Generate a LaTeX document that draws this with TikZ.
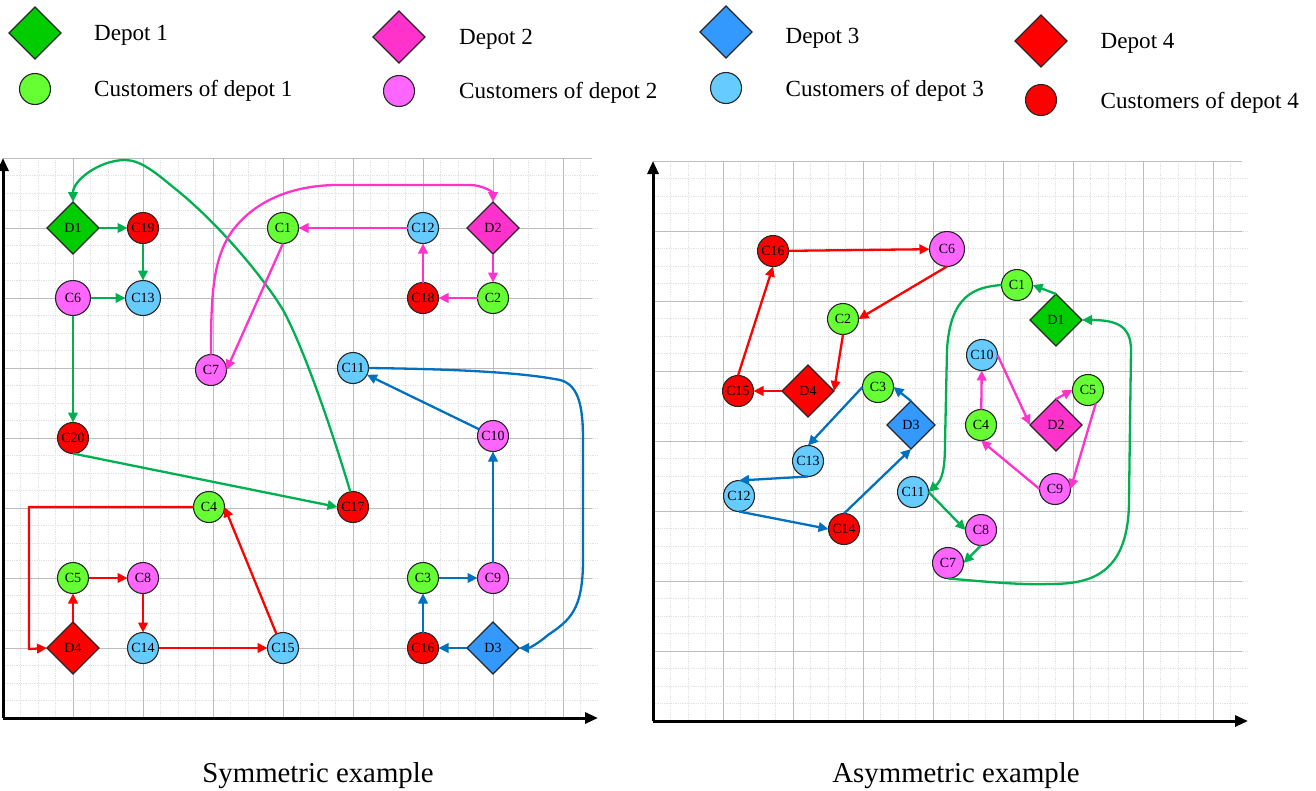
\documentclass[tikz,border=0pt]{standalone}
\usepackage{fontspec}
\setmainfont{Liberation Serif}
\usetikzlibrary{arrows.meta,shapes.geometric}
\definecolor{gA}{HTML}{00CC00}\definecolor{gB}{HTML}{66FF33}\definecolor{gL}{HTML}{00B050}
\definecolor{pA}{HTML}{FF33CC}\definecolor{pB}{HTML}{FF66FF}
\definecolor{bA}{HTML}{3399FF}\definecolor{bB}{HTML}{66CCFF}\definecolor{bL}{HTML}{0070C0}
\definecolor{rA}{HTML}{FF0000}
\definecolor{gridmaj}{HTML}{BDBDBD}\definecolor{gridmin}{HTML}{E2E2E2}
\tikzset{
 x=1pt,y=-1pt,
 base/.style={draw=black!85,line width=1.1pt,inner sep=0pt,outer sep=0pt,font=\fontsize{14}{16}\selectfont},
 depot/.style={base,diamond,aspect=1,minimum width=52pt,minimum height=52pt},
 depotsm/.style={base,diamond,aspect=1,minimum width=48pt,minimum height=48pt},
 cust/.style={base,circle,minimum size=31pt},
 custb/.style={base,circle,minimum size=35pt},
 legend/.style={anchor=west,inner sep=0pt,font=\fontsize{23.1}{26}\selectfont},
 caption/.style={inner sep=0pt,font=\fontsize{28.8}{32}\selectfont},
 con/.style={line width=2.3pt,-{Triangle[length=10pt,width=9.5pt]}},
 gl/.style={con,draw=gL,-{Triangle[length=10pt,width=9.5pt,fill=gL]}},
 pl/.style={con,draw=pA},
 bl/.style={con,draw=bL},
 rl/.style={con,draw=rA},
 axis/.style={line width=3pt,-{Triangle[length=13pt,width=11pt]},black},
 maj/.style={draw=gridmaj,line width=1pt},
 mnr/.style={draw=gridmin,line width=0.8pt,densely dotted},
}
\begin{document}
\begin{tikzpicture}
\useasboundingbox (0,0) rectangle (1316,790);
% legend
\node[depot,fill=gA] (l1) at (35,33) {};
\node[cust,fill=gB] (l2) at (35,89) {};
\node[legend] (t1) at (94,35) {Depot 1};
\node[legend] (t2) at (94,91) {Customers of depot 1};
\node[depot,fill=pA] (l3) at (399,37) {};
\node[cust,fill=pB] (l4) at (399,91) {};
\node[legend] (t3) at (459,39) {Depot 2};
\node[legend] (t4) at (459,93) {Customers of depot 2};
\node[depot,fill=bA] (l5) at (726,32) {};
\node[cust,fill=bB] (l6) at (726,88) {};
\node[legend] (t5) at (785.5,38) {Depot 3};
\node[legend] (t6) at (785.5,91) {Customers of depot 3};
\node[depot,fill=rA] (l7) at (1041,41) {};
\node[cust,fill=rA] (l8) at (1041,100) {};
\node[legend] (t7) at (1100.5,43) {Depot 4};
\node[legend] (t8) at (1100.5,103) {Customers of depot 4};
% grids
\foreach \ox/\oy in {3/158,653/161}{
  \foreach \i in {1,...,33}{
    \draw[mnr] ({\ox+17.5*\i},\oy) -- ({\ox+17.5*\i},\oy+560);
  }
  \foreach \i in {1,...,31}{
    \draw[mnr] (\ox,{\oy+17.5*\i}) -- (\ox+595,{\oy+17.5*\i});
  }
  \foreach \i in {1,...,8}{
    \draw[maj] ({\ox+70*\i},\oy) -- ({\ox+70*\i},\oy+560);
  }
  \foreach \i in {0,...,7}{
    \draw[maj] (\ox,{\oy+70*\i}) -- (\ox+589,{\oy+70*\i});
  }
}
% axes
\coordinate (o1) at (3,718);\coordinate (y1) at (3,158);\coordinate (x1) at (598,718);
\coordinate (o2) at (653,721);\coordinate (y2) at (653,161);\coordinate (x2) at (1248,721);
\draw[axis] (o1) -- (y1);\draw[axis] (o1) -- (x1);
\draw[axis] (o2) -- (y2);\draw[axis] (o2) -- (x2);
% symmetric nodes
\node[depot,fill=gA] (D1) at (73,228) {D1};
\node[cust,fill=rA] (C19) at (143,228) {C19};
\node[custb,fill=bB] (C13) at (143,298) {C13};
\node[custb,fill=pB] (C6) at (73,298) {C6};
\node[cust,fill=rA] (C20) at (73,438) {C20};
\node[cust,fill=gB] (C1) at (283,228) {C1};
\node[cust,fill=bB] (C12) at (423,228) {C12};
\node[depot,fill=pA] (D2) at (493,228) {D2};
\node[cust,fill=gB] (C2) at (493,298) {C2};
\node[cust,fill=rA] (C18) at (423,298) {C18};
\node[cust,fill=pB] (C7) at (211,370) {C7};
\node[cust,fill=bB] (C11) at (353,368) {C11};
\node[cust,fill=pB] (C10) at (493,436) {C10};
\node[cust,fill=rA] (C17) at (353,507) {C17};
\node[cust,fill=gB] (C4) at (209,507) {C4};
\node[cust,fill=gB] (C5) at (73,578) {C5};
\node[cust,fill=pB] (C8) at (143,578) {C8};
\node[cust,fill=bB] (C14) at (143,648) {C14};
\node[cust,fill=bB] (C15) at (283,648) {C15};
\node[depot,fill=rA] (D4) at (73,648) {D4};
\node[cust,fill=gB] (C3) at (423,578) {C3};
\node[cust,fill=pB] (C9) at (493,578) {C9};
\node[cust,fill=rA] (C16) at (423,648) {C16};
\node[depot,fill=bA] (D3) at (493,648) {D3};
\coordinate (k1) at (29,649);
% symmetric connectors
\draw[gl] (D1) -- (C19);
\draw[gl] (C19) -- (C13);
\draw[gl] (C6) -- (C13);
\draw[gl] (C6) -- (C20);
\draw[gl] (C20.south) -- (C17.west);
\draw[gl] (C17.100) .. controls (335,440) and (305,350) .. (283,310) .. controls (262,275) and (215,220) .. (173,187) .. controls (155,172) and (140,160) .. (125,160) .. controls (100,160) and (73,180) .. (D1.north);
\draw[pl] (C7.north) .. controls (211,300) and (212,258) .. (233,230) .. controls (252,205) and (285,186) .. (335,185) -- (470,185) .. controls (482,185) and (493,192) .. (D2.north);
\draw[pl] (C1.south) -- (C7.east);
\draw[pl] (C12) -- (C1);
\draw[pl] (C18) -- (C12);
\draw[pl] (C2) -- (C18);
\draw[pl] (D2) -- (C2);
\draw[bl] (D3) -- (C16);
\draw[bl] (C16) -- (C3);
\draw[bl] (C3) -- (C9);
\draw[bl] (C9) -- (C10);
\draw[bl] (C10) -- (C11);
\draw[bl] (C11.east) .. controls (450,369) and (520,372) .. (560,380) .. controls (580,385) and (583,410) .. (583,440) -- (583,560) .. controls (583,610) and (570,620) .. (548,635) .. controls (540,642) and (530,648) .. (D3.east);
\draw[rl] (D4) -- (C5);
\draw[rl] (C5) -- (C8);
\draw[rl] (C8) -- (C14);
\draw[rl] (C14) -- (C15);
\draw[rl] (C15.115) -- (C4.east);
\draw[rl] (C4.west) -| (k1) -- (D4.west);
% asymmetric nodes
\node[cust,fill=rA] (aC16) at (773,251) {C16};
\node[custb,fill=pB] (aC6) at (947,249) {C6};
\node[cust,fill=gB] (aC1) at (1017,285) {C1};
\node[depot,fill=gA] (aD1) at (1056,320) {D1};
\node[cust,fill=gB] (aC2) at (843,319) {C2};
\node[cust,fill=bB] (aC10) at (982,355) {C10};
\node[cust,fill=gB] (aC5) at (1088,390) {C5};
\node[depot,fill=rA] (aD4) at (808,391) {D4};
\node[cust,fill=rA] (aC15) at (738,391) {C15};
\node[cust,fill=gB] (aC3) at (878,387) {C3};
\node[depotsm,fill=bA] (aD3) at (911,425) {D3};
\node[cust,fill=gB] (aC4) at (981,425) {C4};
\node[depot,fill=pA] (aD2) at (1056,425) {D2};
\node[cust,fill=bB] (aC13) at (808,461) {C13};
\node[cust,fill=pB] (aC9) at (1055,489) {C9};
\node[cust,fill=bB] (aC11) at (913,492) {C11};
\node[cust,fill=bB] (aC12) at (739,496) {C12};
\node[cust,fill=rA] (aC14) at (844,529) {C14};
\node[cust,fill=pB] (aC8) at (981,530) {C8};
\node[cust,fill=pB] (aC7) at (948,563) {C7};
% asymmetric connectors
\draw[rl] (aC16) -- (aC6);
\draw[rl] (aC6.south) -- (aC2.east);
\draw[rl] (aC2.south) -- (aD4.east);
\draw[rl] (aD4) -- (aC15);
\draw[rl] (aC15.north) -- (aC16.south);
\draw[bl] (aD3.north) -- (aC3.east);
\draw[bl] (aC3.west) -- (aC13.north);
\draw[bl] (aC13.south) -- (aC12.north);
\draw[bl] (aC12.south) -- (aC14.west);
\draw[bl] (aC14.north) -- (aD3.south);
\draw[gl] (aD1.north) -- (aC1.east);
\draw[gl] (aC1.west) .. controls (975,287) and (950,295) .. (947,350) -- (945,443) .. controls (945,470) and (942,480) .. (aC11.east);
\draw[gl] (aC11.east) -- (aC8.west);
\draw[gl] (aC8.south) -- (aC7.east);
\draw[gl] (aC7.south) .. controls (990,582) and (1020,585) .. (1050,584) .. controls (1090,584) and (1129,575) .. (1129,500) -- (1131,350) .. controls (1131,325) and (1115,320) .. (aD1.east);
\draw[pl] (aC4) -- (aC10);
\draw[pl] (aC10.east) -- (aD2.west);
\draw[pl] (aD2.north) -- (aC5.west);
\draw[pl] (aC5.-60) -- (aC9.east);
\draw[pl] (aC9.west) -- (aC4.south);
% captions
\node[caption] (cap1) at (318,776) {Symmetric example};
\node[caption] (cap2) at (956,776) {Asymmetric example};
\end{tikzpicture}
\end{document}
